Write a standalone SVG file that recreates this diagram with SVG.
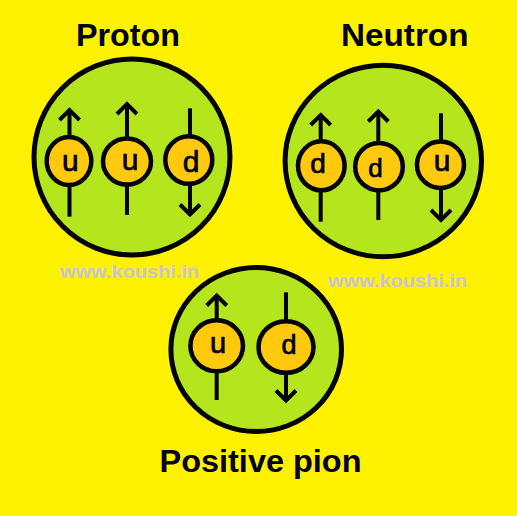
<svg xmlns="http://www.w3.org/2000/svg" width="517" height="516" viewBox="0 0 517 516">
<defs>
<marker id="chev" markerUnits="userSpaceOnUse" orient="auto" refX="0" refY="0" overflow="visible">
<path d="M-10,-10 L0,0 L-10,10" fill="none" stroke="#000" stroke-width="4" stroke-linejoin="miter"/>
</marker>
<style>
.title{font-family:"Liberation Sans",Arial,sans-serif;font-weight:bold;font-size:32px;fill:#00001a}
.wm{font-family:"Liberation Sans",Arial,sans-serif;font-weight:bold;font-size:19px;fill:#c8c3de}
.hadron{fill:#b5e61d;stroke:#000;stroke-width:5}
.quark{fill:#ffc90e;stroke:#000;stroke-width:4.5}
.spin{stroke:#000;stroke-width:4;fill:none;marker-end:url(#chev)}
.q{font-family:"Liberation Sans",Arial,sans-serif;text-anchor:middle;fill:#00001a;stroke:#00001a;stroke-width:0.7}
</style>
</defs>
<rect width="517" height="516" fill="#fff200"/>

<text class="wm" x="60" y="278" textLength="139" lengthAdjust="spacingAndGlyphs">www.koushi.in</text>
<text class="wm" x="328" y="287" textLength="139" lengthAdjust="spacingAndGlyphs">www.koushi.in</text>

<g id="proton">
<text class="title" x="76" y="46" textLength="104" lengthAdjust="spacingAndGlyphs">Proton</text>
<circle class="hadron" cx="132" cy="157" r="98"/>
<g id="proton-u1">
<path class="spin" d="M69.5,216.7 V110"/>
<ellipse class="quark" cx="69" cy="161" rx="22.3" ry="24"/>
<text class="q" x="70.3" y="170.7" font-size="30">u</text>
</g>
<g id="proton-u2">
<path class="spin" d="M127,215 V104"/>
<ellipse class="quark" cx="127" cy="161.5" rx="24" ry="23"/>
<text class="q" x="130" y="170" font-size="30">u</text>
</g>
<g id="proton-d">
<path class="spin" d="M190,108.3 V214.5"/>
<ellipse class="quark" cx="188.8" cy="160" rx="23.5" ry="23.8"/>
<text class="q" x="191" y="171.7" font-size="30">d</text>
</g>
</g>

<g id="neutron">
<text class="title" x="341" y="46" textLength="127.5" lengthAdjust="spacingAndGlyphs">Neutron</text>
<ellipse class="hadron" cx="383.3" cy="161" rx="98.2" ry="95.7"/>
<g id="neutron-d1">
<path class="spin" d="M320.7,221.7 V115"/>
<ellipse class="quark" cx="321.3" cy="165.8" rx="23.3" ry="24.5"/>
<text class="q" x="318" y="173.3" font-size="28">d</text>
</g>
<g id="neutron-d2">
<path class="spin" d="M378.3,220 V111.5"/>
<ellipse class="quark" cx="379" cy="166.7" rx="23.8" ry="23.7"/>
<text class="q" x="375.5" y="176.7" font-size="26">d</text>
</g>
<g id="neutron-u">
<path class="spin" d="M441,113.3 V220"/>
<ellipse class="quark" cx="440.5" cy="164.7" rx="23.5" ry="23.3"/>
<text class="q" x="442" y="170.7" font-size="30">u</text>
</g>
</g>

<g id="pion">
<text class="title" x="159.5" y="471.7" textLength="202" lengthAdjust="spacingAndGlyphs">Positive pion</text>
<ellipse class="hadron" cx="256.2" cy="349.5" rx="85.3" ry="82"/>
<g id="pion-u">
<path class="spin" d="M216.7,400 V295.5"/>
<ellipse class="quark" cx="216.7" cy="345.8" rx="26.3" ry="25.5"/>
<text class="q" x="218" y="353.3" font-size="29">u</text>
</g>
<g id="pion-d">
<path class="spin" d="M286,292.3 V400.5"/>
<ellipse class="quark" cx="286" cy="347" rx="27.5" ry="25.8"/>
<text class="q" x="289" y="354.3" font-size="27">d</text>
</g>
</g>
</svg>
